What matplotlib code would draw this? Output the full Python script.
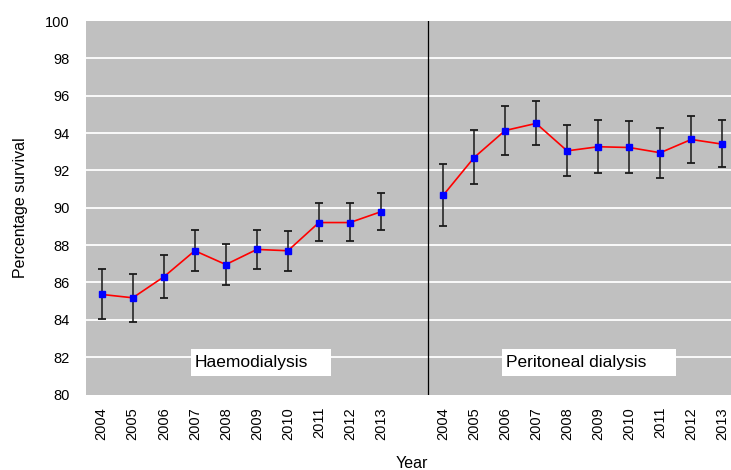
import matplotlib

matplotlib.use("Agg")
import matplotlib.pyplot as plt
import numpy as np
from matplotlib.patches import Rectangle

plt.rcParams["font.family"] = ["Liberation Sans", "DejaVu Sans"]

years = ["2004", "2005", "2006", "2007", "2008", "2009", "2010", "2011", "2012", "2013"]

# haemodialysis survival, with lower/upper 95% limits
hd_value = [85.36, 85.18, 86.30, 87.70, 86.96, 87.77, 87.70, 89.21, 89.21, 89.79]
hd_lower = [84.04, 83.91, 85.18, 86.61, 85.88, 86.72, 86.64, 88.20, 88.23, 88.81]
hd_upper = [86.70, 86.45, 87.45, 88.82, 88.07, 88.82, 88.78, 90.27, 90.27, 90.79]

# peritoneal dialysis survival
pd_value = [90.66, 92.69, 94.14, 94.52, 93.05, 93.27, 93.23, 92.95, 93.66, 93.41]
pd_lower = [89.00, 91.27, 92.85, 93.34, 91.70, 91.89, 91.84, 91.62, 92.41, 92.16]
pd_upper = [92.34, 94.16, 95.45, 95.73, 94.45, 94.70, 94.64, 94.28, 94.94, 94.71]

group_labels = ["Haemodialysis", "Peritoneal dialysis"]
y_ticks = np.arange(80, 101, 2)


def draw_group(ax, x, value, lower, upper):
    value = np.asarray(value)
    yerr = np.vstack([value - np.asarray(lower), np.asarray(upper) - value])
    ax.errorbar(x, value, yerr=yerr, fmt="none", ecolor="#1a1a1a", elinewidth=1.1,
                capsize=2.6, capthick=1.3, zorder=3)
    ax.plot(x, value, color="#ff0000", lw=1.2, zorder=4)
    ax.plot(x, value, ls="none", marker="s", ms=5, color="#0000ff", zorder=5)


def label_box(ax, x0, x1, y0, y1, text):
    ax.add_patch(Rectangle((x0, y0), x1 - x0, y1 - y0, facecolor="white",
                           edgecolor="none", zorder=6))
    ax.text(x0 + 0.13, (y0 + y1) / 2, text, fontsize=12.5, ha="left", va="center", zorder=7)


fig = plt.figure(figsize=(7.31, 4.70), dpi=100)
ax = fig.add_axes([86.2 / 731, 75.5 / 470, 651.6 / 731, 373.4 / 470])
ax.set_facecolor("#c0c0c0")

n = len(years)
x_hd = np.arange(n)
x_pd = np.arange(n) + n + 1

draw_group(ax, x_hd, hd_value, hd_lower, hd_upper)
draw_group(ax, x_pd, pd_value, pd_lower, pd_upper)

ax.axvline(n + 0.5, color="black", lw=0.9, zorder=2)

ax.set_xlim(-0.5, 2 * n + 0.5)
ax.set_ylim(80, 100)
ax.set_yticks(y_ticks)
ax.set_xticks(np.concatenate([x_hd, x_pd]))
ax.set_xticklabels(years + years, rotation=90)
ax.tick_params(axis="both", length=0, labelsize=10.5)
ax.tick_params(axis="y", pad=12)
ax.tick_params(axis="x", pad=9)

ax.yaxis.grid(True, color="white", lw=1.3, zorder=1)
gridlines = ax.get_ygridlines()
gridlines[0].set_visible(False)
gridlines[-1].set_visible(False)
ax.set_axisbelow(True)

for spine in ax.spines.values():
    spine.set_visible(False)

ax.set_ylabel("Percentage survival", fontsize=11.5, labelpad=12)
ax.set_xlabel("Year", fontsize=11.5, labelpad=12)

label_box(ax, 2.88, 7.40, 81.0, 82.45, group_labels[0])
label_box(ax, 12.90, 18.50, 81.0, 82.45, group_labels[1])

fig.savefig("out.png", dpi=100)
